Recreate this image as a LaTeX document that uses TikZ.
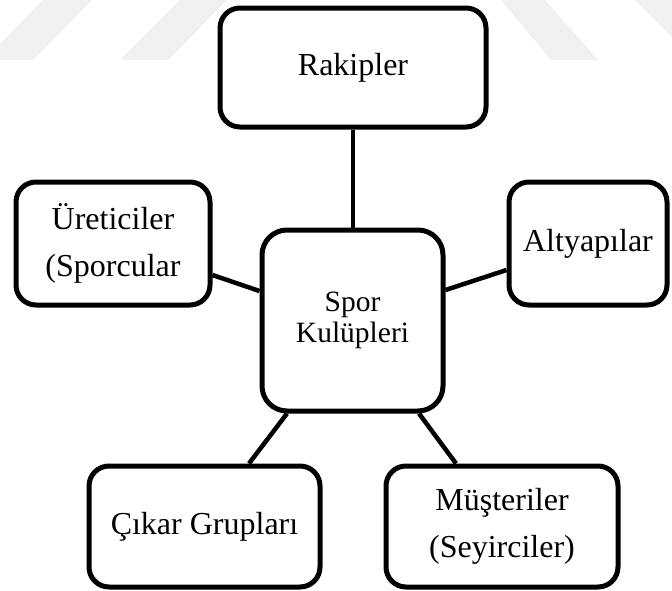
\documentclass[tikz,border=0pt]{standalone}
\usepackage{fontspec}
\setmainfont{Liberation Serif}
\usetikzlibrary{calc}
\definecolor{wm}{HTML}{F0F0F0}
\begin{document}
\begin{tikzpicture}[x=1pt,y=-1pt,
  box/.style={draw=black,line width=5pt,rounded corners=20pt,fill=white,inner sep=0pt,align=center,font=\fontsize{32}{47}\selectfont},
  ctrbox/.style={box,rounded corners=25pt,font=\fontsize{29.5}{31}\selectfont},
  link/.style={line width=4.5pt}]
\useasboundingbox (0,0) rectangle (672,590);
% faint watermark stripes
\fill[wm] (43,0) -- (92,0) -- (33,60) -- (0,60) -- (0,44) -- cycle;
\fill[wm] (180,0) -- (227,0) -- (168,60) -- (120,60) -- cycle;
\fill[wm] (501,0) -- (545,0) -- (598,60) -- (551,60) -- cycle;
\fill[wm] (635,0) -- (672,0) -- (672,37) -- cycle;
% boxes
\node[box,minimum width=266pt,minimum height=119pt] (rak) at (353,67.5) {Rakipler};
\node[box,minimum width=194pt,minimum height=123pt] (ure) at (113,243.5) {Üreticiler\\(Sporcular};
\node[box,minimum width=158pt,minimum height=123pt] (alt) at (588,243.5) {Altyapılar};
\node[ctrbox,minimum width=181pt,minimum height=181pt] (ctr) at (352.5,320.5) {Spor\\Kulüpleri};
\node[box,minimum width=231pt,minimum height=121pt] (cik) at (204.5,526.5) {Çıkar Grupları};
\node[box,minimum width=232pt,minimum height=121pt] (mus) at (502,526.5) {Müşteriler\\(Seyirciler)};
% connectors
\draw[link] (rak.south) -- (rak.south |- ctr.north);
\draw[link] ($(ure.east)+(0,31.5)$) -- ($(ctr.west)+(0,-29.5)$);
\draw[link] ($(ctr.east)+(0,-30.5)$) -- ($(alt.west)+(0,26.5)$);
\draw[link] ($(ctr.south)+(-65.5,0)$) -- ($(cik.north)+(44.5,0)$);
\draw[link] ($(ctr.south)+(66.5,0)$) -- ($(mus.north)+(-46,0)$);
\end{tikzpicture}
\end{document}
